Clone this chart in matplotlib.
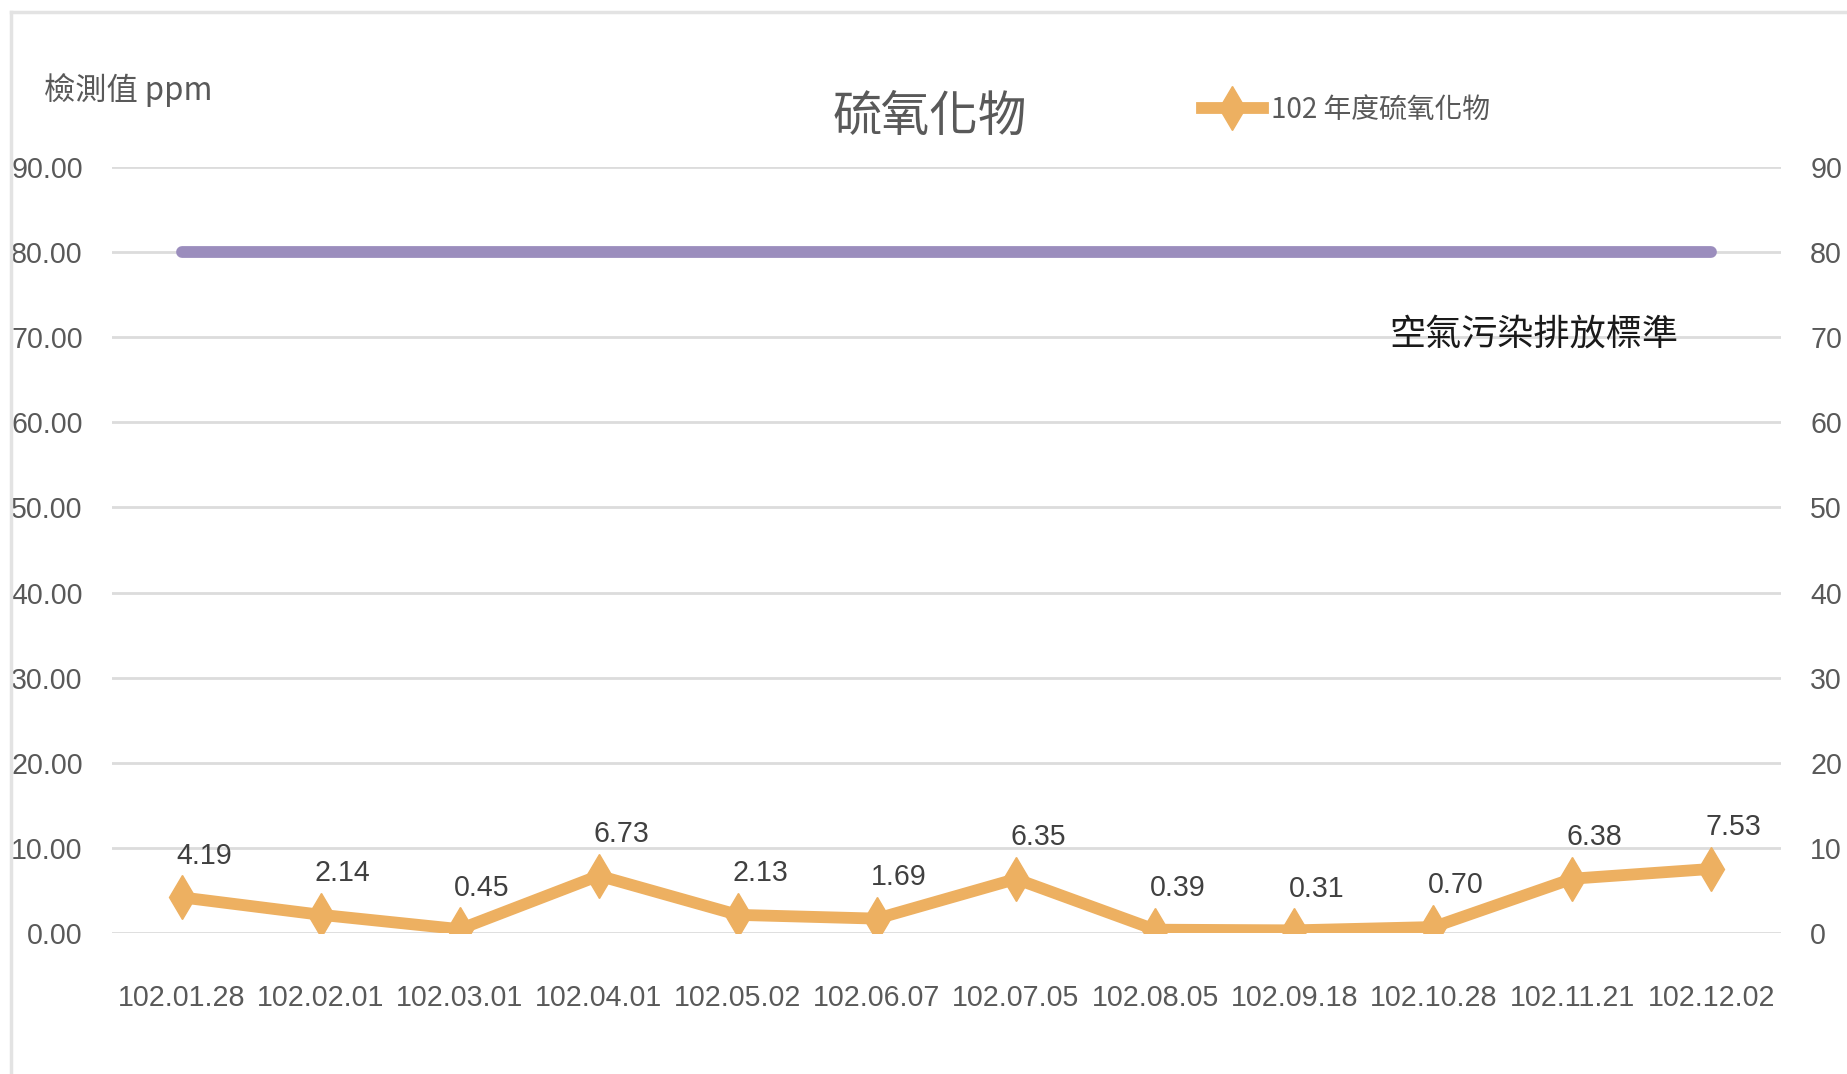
import matplotlib
matplotlib.use("Agg")
import matplotlib.pyplot as plt
from matplotlib.lines import Line2D
from matplotlib.font_manager import FontProperties
from matplotlib.textpath import TextPath

dates = ['102.01.28', '102.02.01', '102.03.01', '102.04.01', '102.05.02', '102.06.07',
         '102.07.05', '102.08.05', '102.09.18', '102.10.28', '102.11.21', '102.12.02']
values = [4.19, 2.14, 0.45, 6.73, 2.13, 1.69, 6.35, 0.39, 0.31, 0.70, 6.38, 7.53]
limit = [80] * len(dates)
yticks = [0, 10, 20, 30, 40, 50, 60, 70, 80, 90]

CJK = ['Noto Sans CJK TC', 'DejaVu Sans']
gray = '#595959'
orange = '#EDB061'
purple = '#9B8DBD'

# numbers: narrowest installed sans, sized so a date label is ~124 px wide
num_fp = FontProperties(family=['Liberation Sans', 'DejaVu Sans'])
w10 = TextPath((0, 0), '102.01.28', size=10, prop=num_fp).get_extents().width
num_fp.set_size(10 * 124 / (w10 * 100 / 72))

W, H = 1847, 1074
fig = plt.figure(figsize=(W / 100, H / 100), dpi=100)
ax = fig.add_axes([112 / W, 1 - 933 / H, (1781 - 112) / W, (933 - 167) / H])

x = list(range(len(dates)))
ax.plot(x, limit, color=purple, lw=8.5, solid_capstyle='round', zorder=3)
ax.plot(x, values, color=orange, lw=8.5, marker='d', markersize=22,
        solid_joinstyle='round', zorder=4, label='102 年度硫氧化物')
for xi, v in zip(x, values):
    ax.annotate(f'{v:.2f}', (xi, v), xytext=(16, 30), textcoords='offset points',
                ha='center', va='center', color='#404040', fontproperties=num_fp)

ax.set_xlim(-0.5, len(dates) - 0.5)
ax.set_ylim(0, 90)
ax.set_yticks(yticks)
ax.set_yticklabels([f'{t:.2f}' for t in yticks], fontproperties=num_fp, color=gray)
ax.set_xticks(x)
ax.set_xticklabels(dates, fontproperties=num_fp, color=gray)
ax.tick_params(axis='y', length=0, pad=21)
ax.tick_params(axis='x', length=0, pad=37)
ax.grid(axis='y', color='#dcdcdc', lw=2)
ax.set_axisbelow(True)
for s in ax.spines.values():
    s.set_visible(False)

ax2 = ax.twinx()
ax2.set_ylim(0, 90)
ax2.set_yticks(yticks)
ax2.set_yticklabels([str(t) for t in yticks], fontproperties=num_fp, color=gray)
ax2.tick_params(axis='y', length=0, pad=21)
for s in ax2.spines.values():
    s.set_visible(False)

ax.text(9.72, 70.3, '空氣污染排放標準', ha='center', va='center', fontsize=26,
        color='#1a1a1a', family=CJK)

fig.text(930 / W, 1 - 117 / H, '硫氧化物', ha='center', va='center', fontsize=35,
         color=gray, family=CJK)
fig.text(44 / W, 1 - 90 / H, '檢測值 ppm', ha='left', va='center', fontsize=22.5,
         color=gray, family=CJK)

handles, labels = ax.get_legend_handles_labels()
leg = fig.legend(handles, labels, loc='center left', bbox_to_anchor=(1188 / W, 1 - 110 / H),
                 frameon=False, borderpad=0, handlelength=2.2, handletextpad=0.3,
                 prop={'family': CJK, 'size': 20})
for t in leg.get_texts():
    t.set_color(gray)

# outer chart frame (cropped on right and bottom)
fig.add_artist(Line2D([11 / W, 1], [1 - 12 / H, 1 - 12 / H], transform=fig.transFigure,
                      color='#e3e3e3', lw=2.5))
fig.add_artist(Line2D([11 / W, 11 / W], [0, 1 - 12 / H], transform=fig.transFigure,
                      color='#e3e3e3', lw=2.5))

fig.savefig('out.png', dpi=100)
